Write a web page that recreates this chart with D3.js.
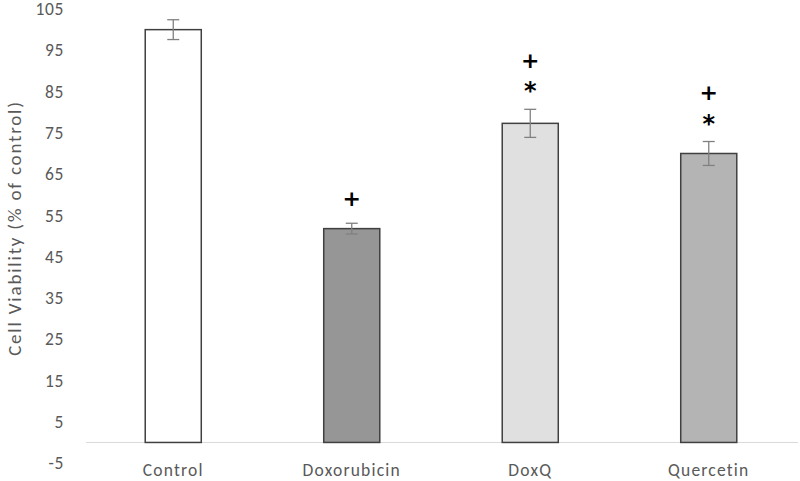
<!DOCTYPE html>
<html><head><meta charset="utf-8">
<script src="https://cdn.jsdelivr.net/npm/d3@7"></script>
<style>body{margin:0;background:#fff}text{font-family:Carlito,Lato,"Open Sans",sans-serif}</style>
</head><body><svg id="c" width="800" height="481"></svg>
<script>
const categories = ["Control","Doxorubicin","DoxQ","Quercetin"];
const values = [100, 51.8, 77.3, 70.0];
const errors = [2.4, 1.3, 3.4, 2.9];
const fills = ["#ffffff","#969696","#e0e0e0","#b4b4b4"];
const marksPlus = [false, true, true, true];
const marksStar = [false, false, true, true];
const yTicks = [-5,5,15,25,35,45,55,65,75,85,95,105];

const svg = d3.select("#c");
const x = d3.scaleBand().domain(categories).range([84,798]).paddingInner(0.686).paddingOuter(0.343);
const y = d3.scaleLinear().domain([-5,105]).range([463.1,9]);

// y axis labels
const ya = svg.append("g").attr("transform","translate(64,0)")
  .call(d3.axisLeft(y).tickValues(yTicks).tickSize(0).tickPadding(0).tickFormat(d=>String(d)));
ya.select(".domain").remove();
ya.selectAll("text").attr("fill","#595959").style("font-size","17.5px").style("letter-spacing","0.6px")
  .style("font-family","Carlito,Lato,sans-serif");

// x axis line at 0
svg.append("line").attr("x1",86).attr("x2",798).attr("y1",y(0)).attr("y2",y(0))
  .attr("stroke","#d9d9d9").attr("stroke-width",1);

// bars
svg.selectAll("rect.bar").data(categories).enter().append("rect")
  .attr("x",d=>x(d)).attr("width",x.bandwidth())
  .attr("y",(d,i)=>y(values[i])).attr("height",(d,i)=>y(0)-y(values[i]))
  .attr("fill",(d,i)=>fills[i]).attr("stroke","#404040").attr("stroke-width",1.5);

// error bars
const cap = 6;
categories.forEach((c,i)=>{
  const cx = x(c)+x.bandwidth()/2;
  const g = svg.append("g").attr("stroke","#808080").attr("stroke-width",1.3);
  g.append("line").attr("x1",cx).attr("x2",cx).attr("y1",y(values[i]+errors[i])).attr("y2",y(values[i]-errors[i]));
  g.append("line").attr("x1",cx-cap).attr("x2",cx+cap).attr("y1",y(values[i]+errors[i])).attr("y2",y(values[i]+errors[i]));
  g.append("line").attr("x1",cx-cap).attr("x2",cx+cap).attr("y1",y(values[i]-errors[i])).attr("y2",y(values[i]-errors[i]));
  const top = y(values[i]+errors[i]);
  if (marksStar[i]) {
    svg.append("text").attr("x",cx).attr("y",top-10).attr("text-anchor","middle")
      .attr("fill","#000").style("font-size","24px").style("font-weight","bold").style("font-family","DejaVu Sans,sans-serif").text("*");
  }
  if (marksPlus[i]) {
    const off = marksStar[i] ? 49 : 25;
    svg.append("text").attr("x",cx).attr("y",top-off).attr("text-anchor","middle").attr("dominant-baseline","central")
      .attr("fill","#000").style("font-size","22px").style("font-weight","bold").style("font-family","DejaVu Sans,sans-serif").text("+");
  }
});

// x labels
svg.selectAll("text.xl").data(categories).enter().append("text").attr("class","xl")
  .attr("x",d=>x(d)+x.bandwidth()/2).attr("y",476).attr("text-anchor","middle")
  .attr("fill","#595959").style("font-size","17.5px").style("letter-spacing","1.2px").text(d=>d);

// y title
svg.append("text").attr("transform","translate(21,228) rotate(-90)").attr("text-anchor","middle")
  .attr("fill","#595959").style("font-size","19px").style("letter-spacing","1.8px").text("Cell Viability (% of control)");
</script></body></html>
